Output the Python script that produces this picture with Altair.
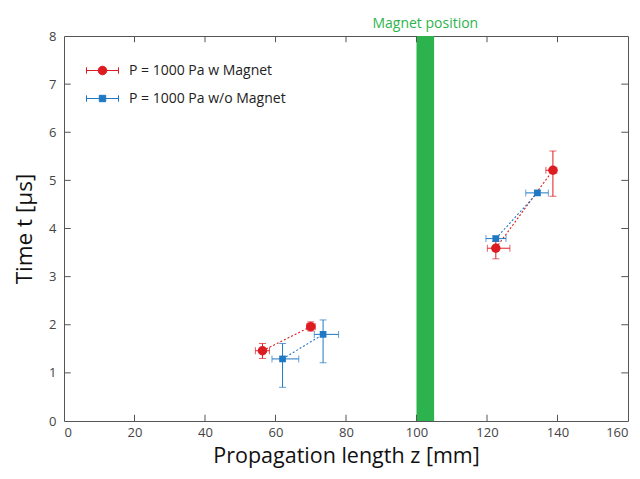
import altair as alt
import pandas as pd

# ---- data ----
series_names = ["P = 1000 Pa w Magnet", "P = 1000 Pa w/o Magnet"]

red_x = [56.3, 70.0, 122.5, 138.7]
red_y = [1.46, 1.96, 3.59, 5.21]
red_xlo = [54.3, 68.9, 120.1, 136.7]
red_xhi = [58.3, 71.3, 126.5, 139.8]
red_ylo = [1.30, 1.87, 3.37, 4.67]
red_yhi = [1.61, 2.06, 3.73, 5.61]
red_seg = ["a", "a", "b", "b"]

blue_x = [62.0, 73.5, 122.5, 134.3]
blue_y = [1.29, 1.80, 3.79, 4.74]
blue_xlo = [59.0, 71.0, 119.7, 131.0]
blue_xhi = [66.6, 77.9, 125.4, 137.4]
blue_ylo = [0.70, 1.21, 3.74, 4.69]
blue_yhi = [1.61, 2.10, 3.84, 4.79]
blue_seg = ["a", "a", "b", "b"]

magnet_start = [100]
magnet_end = [105]
magnet_label = ["Magnet position"]

x_ticks = [0, 20, 40, 60, 80, 100, 120, 140, 160]
y_ticks = [0, 1, 2, 3, 4, 5, 6, 7, 8]

RED = "#dd1c22"
BLUE = "#1f78c4"
GREEN = "#2db34d"
FONT = "Open Sans"

def frame(name, xs, ys, xlo, xhi, ylo, yhi, seg):
    return pd.DataFrame({
        "series": name, "x": xs, "y": ys, "xlo": xlo, "xhi": xhi,
        "ylo": ylo, "yhi": yhi, "seg": [name + s for s in seg]})

df = pd.concat([
    frame(series_names[0], red_x, red_y, red_xlo, red_xhi, red_ylo, red_yhi, red_seg),
    frame(series_names[1], blue_x, blue_y, blue_xlo, blue_xhi, blue_ylo, blue_yhi, blue_seg),
], ignore_index=True)

xs = alt.Scale(domain=[0, 160], nice=False, zero=False)
ys = alt.Scale(domain=[0, 8], nice=False, zero=False)

circle_path = ("M-1,0H1M-1,-0.2V0.2M1,-0.2V0.2"
               "M0.27,0A0.27,0.27,0,1,1,-0.27,0A0.27,0.27,0,1,1,0.27,0Z")
square_path = ("M-1,0H1M-1,-0.2V0.2M1,-0.2V0.2"
               "M-0.2,-0.2H0.2V0.2H-0.2Z")

legend = alt.Legend(
    title=None, orient="none", legendX=22, legendY=18,
    labelFont=FONT, labelFontSize=14, labelColor="#222",
    labelOffset=10, rowPadding=4, padding=0,
    symbolSize=1024, symbolStrokeWidth=1, symbolOpacity=1)
cscale = alt.Scale(domain=series_names, range=[RED, BLUE])
color = alt.Color("series:N", scale=cscale, legend=legend)

X_TITLE = "Propagation length z [mm]"
Y_TITLE = "Time t [μs]"
xaxis = alt.Axis(values=x_ticks, ticks=False, domain=False, grid=False, labelFont=FONT,
                 labelFontSize=13, labelColor="#444", labelPadding=5,
                 title=X_TITLE, titleFont=FONT, titleFontSize=21.5,
                 titleFontWeight="normal", titleColor="#111", titlePadding=6)
yaxis = alt.Axis(values=y_ticks, ticks=False, domain=False, grid=False, labelFont=FONT,
                 labelFontSize=13, labelColor="#444", labelPadding=8,
                 title=Y_TITLE, titleFont=FONT, titleFontSize=22.5,
                 titleFontWeight="normal", titleColor="#111", titlePadding=12)

X = lambda f: alt.X(f, scale=xs, axis=xaxis, title=X_TITLE)
Y = lambda f: alt.Y(f, scale=ys, axis=yaxis, title=Y_TITLE)

band_df = pd.DataFrame({"x0": magnet_start, "x1": magnet_end, "label": magnet_label})
band = alt.Chart(band_df).mark_rect(color=GREEN).encode(
    x=X("x0:Q"), x2="x1:Q",
    y=alt.datum(0, scale=ys, axis=yaxis, title=Y_TITLE), y2=alt.datum(8))
band_text = alt.Chart(band_df).transform_calculate(xm="(datum.x0 + datum.x1) / 2").mark_text(
    color=GREEN, font=FONT, fontSize=14, baseline="alphabetic").encode(
    x=X("xm:Q"), y=alt.value(-8), text="label:N")

# inward ticks on all four sides
xt = pd.DataFrame({"v": x_ticks[1:-1]})
yt = pd.DataFrame({"v": y_ticks[1:-1]})
tick_style = dict(color="#555", strokeWidth=1)
ticks_b = alt.Chart(xt).mark_rule(**tick_style).encode(
    x=X("v:Q"), y=alt.datum(0), y2=alt.datum(0.13))
ticks_t = alt.Chart(xt).mark_rule(**tick_style).encode(
    x=X("v:Q"), y=alt.datum(8), y2=alt.datum(7.87))
ticks_l = alt.Chart(yt).mark_rule(**tick_style).encode(
    y=Y("v:Q"), x=alt.datum(0), x2=alt.datum(1.9))
ticks_r = alt.Chart(yt).mark_rule(**tick_style).encode(
    y=Y("v:Q"), x=alt.datum(160), x2=alt.datum(158.1))

base = alt.Chart(df)
lines = base.mark_line(strokeWidth=1.1, strokeDash=[2, 2]).encode(
    x=X("x:Q"), y=Y("y:Q"), color=color, detail="seg:N")
xerr = base.mark_errorbar(ticks={"size": 7}, thickness=1).encode(
    x=X("xlo:Q"), x2="xhi:Q", y=Y("y:Q"), color=color)
yerr = base.mark_errorbar(ticks={"size": 7}, thickness=1).encode(
    y=Y("ylo:Q"), y2="yhi:Q", x=X("x:Q"), color=color)
pts_red = base.transform_filter(alt.datum.series == series_names[0]).mark_point(
    filled=True, opacity=1, shape="circle", size=90).encode(
    x=X("x:Q"), y=Y("y:Q"), color=color)
pts_blue = base.transform_filter(alt.datum.series == series_names[1]).mark_point(
    filled=True, opacity=1, shape="square", size=45).encode(
    x=X("x:Q"), y=Y("y:Q"), color=color)

# legend-only layer (no rows), symbols drawn as marker with error-bar whiskers
legend_layer = base.transform_filter("false").mark_point(
    filled=True, opacity=1, size=1024, strokeWidth=1).encode(
    x=X("x:Q"), y=Y("y:Q"),
    color=color,
    stroke=alt.Stroke("series:N", scale=cscale, legend=legend),
    shape=alt.Shape("series:N", scale=alt.Scale(domain=series_names,
                                                range=[circle_path, square_path]),
                    legend=legend))

chart = alt.layer(band, band_text, ticks_b, ticks_t, ticks_l, ticks_r,
                  lines, xerr, yerr, pts_red, pts_blue, legend_layer).properties(
    width=564, height=385,
    autosize=alt.AutoSizeParams(type="none"),
    padding={"left": 56, "top": 28, "right": 4, "bottom": 50},
    background="white",
).configure_view(stroke="#555", strokeWidth=1)

chart.save("out.html", embed_options={"renderer": "svg", "actions": False})
